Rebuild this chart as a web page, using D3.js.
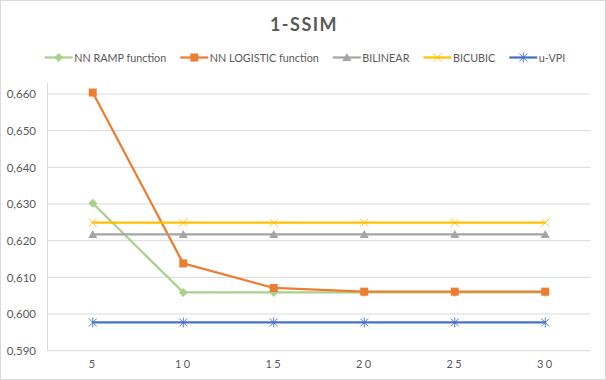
<!DOCTYPE html>
<html>
<head>
<meta charset="utf-8">
<script src="https://cdn.jsdelivr.net/npm/d3@7"></script>
<style>
  body { margin: 0; background: #fff; }
  svg { display: block; font-family: Lato, "Liberation Sans", sans-serif; }
</style>
</head>
<body>
<div id="chart"></div>
<script>
const WIDTH = 606;
const HEIGHT = 380;
const PLOT = {left: 47.5, right: 590.5, top: 94, bottom: 350.7};

// data
const CATEGORIES = ["5", "10", "15", "20", "25", "30"];
const NN_RAMP = [0.6302, 0.6059, 0.6059, 0.6059, 0.6059, 0.6059];
const NN_LOGISTIC = [0.6604, 0.6138, 0.6071, 0.6061, 0.6061, 0.6061];
const BILINEAR = [0.6217, 0.6217, 0.6217, 0.6217, 0.6217, 0.6217];
const BICUBIC = [0.6249, 0.6249, 0.6249, 0.6249, 0.6249, 0.6249];
const U_VPI = [0.5977, 0.5977, 0.5977, 0.5977, 0.5977, 0.5977];
const Y_TICKS = [0.59, 0.60, 0.61, 0.62, 0.63, 0.64, 0.65, 0.66];

const SERIES = [
  {name: "NN RAMP function", values: NN_RAMP, color: "#A9D18E", marker: "diamond"},
  {name: "NN LOGISTIC function", values: NN_LOGISTIC, color: "#ED7D31", marker: "square"},
  {name: "BILINEAR", values: BILINEAR, color: "#A5A5A5", marker: "triangle"},
  {name: "BICUBIC", values: BICUBIC, color: "#FFC000", marker: "x"},
  {name: "u-VPI", values: U_VPI, color: "#4472C4", marker: "asterisk"}
];

const X_SCALE = d3.scalePoint()
  .domain(CATEGORIES)
  .range([PLOT.left, PLOT.right])
  .padding(0.5);

const Y_SCALE = d3.scaleLinear()
  .domain([0.59, 0.66])
  .range([PLOT.bottom, PLOT.top]);

const svg = d3.select("#chart")
  .append("svg")
    .attr("width", WIDTH)
    .attr("height", HEIGHT);

// outer border
svg.append("rect")
  .attr("x", 0.5).attr("y", 0.5)
  .attr("width", WIDTH - 1).attr("height", HEIGHT - 1)
  .attr("fill", "#fff")
  .attr("stroke", "#d9d9d9");

// title
svg.append("text")
  .attr("x", 304)
  .attr("y", 31)
  .attr("text-anchor", "middle")
  .attr("font-size", 18)
  .attr("font-weight", "bold")
  .attr("letter-spacing", 1.5)
  .attr("fill", "#595959")
  .text("1-SSIM");

// gridlines
svg.append("g")
  .selectAll("line")
  .data(Y_TICKS)
  .enter()
  .append("line")
    .attr("x1", PLOT.left).attr("x2", PLOT.right)
    .attr("y1", (d) => Y_SCALE(d)).attr("y2", (d) => Y_SCALE(d))
    .attr("stroke", "#d9d9d9")
    .attr("stroke-width", 1);

// vertical axis line
svg.append("line")
  .attr("x1", PLOT.left).attr("x2", PLOT.left)
  .attr("y1", 83).attr("y2", PLOT.bottom)
  .attr("stroke", "#d9d9d9");

// y axis labels
const yAxis = svg.append("g")
  .attr("transform", "translate(" + 36 + ",0)")
  .call(d3.axisLeft(Y_SCALE)
    .tickValues(Y_TICKS)
    .tickSize(0)
    .tickPadding(0)
    .tickFormat((d) => d3.format(".3f")(d).replace(".", ",")));
yAxis.select(".domain").remove();
yAxis.selectAll("text")
  .attr("font-size", 11.5)
  .attr("font-family", "Lato, sans-serif")
  .attr("fill", "#595959");

// x axis labels
const xAxis = svg.append("g")
  .attr("transform", "translate(0," + 360 + ")")
  .call(d3.axisBottom(X_SCALE).tickSize(0).tickPadding(0));
xAxis.select(".domain").remove();
xAxis.selectAll("text")
  .attr("font-size", 11)
  .attr("font-family", "Lato, sans-serif")
  .attr("letter-spacing", 2.5)
  .attr("fill", "#595959");

function markerPath(type) {
  if (type === "diamond") return "M0,-4.5L4.5,0L0,4.5L-4.5,0Z";
  if (type === "square") return "M-4,-4H4V4H-4Z";
  if (type === "triangle") return "M0,-4.5L4.5,3.5H-4.5Z";
  if (type === "x") return "M-4,-4L4,4M-4,4L4,-4";
  return "M-4,-4L4,4M-4,4L4,-4M0,-5V5";
}

const line = d3.line()
  .x((d, i) => X_SCALE(CATEGORIES[i]))
  .y((d) => Y_SCALE(d));

SERIES.forEach((s) => {
  const g = svg.append("g");
  g.append("path")
    .datum(s.values)
    .attr("d", line)
    .attr("fill", "none")
    .attr("stroke", s.color)
    .attr("stroke-width", 2.25)
    .attr("stroke-linejoin", "round");
  const stroked = s.marker === "x" || s.marker === "asterisk";
  g.selectAll("path.pt")
    .data(s.values)
    .enter()
    .append("path")
      .attr("class", "pt")
      .attr("transform", (d, i) => "translate(" + X_SCALE(CATEGORIES[i]) + "," + Y_SCALE(d) + ")")
      .attr("d", markerPath(s.marker))
      .attr("fill", stroked ? "none" : s.color)
      .attr("stroke", s.color)
      .attr("stroke-width", stroked ? 0.9 : 0);
});

// legend
const GAP = 14;
const legend = svg.append("g");
let cursor = 0;
SERIES.forEach((s) => {
  const item = legend.append("g").attr("transform", "translate(" + cursor + ",0)");
  item.append("line")
    .attr("x1", 0).attr("x2", 28)
    .attr("y1", 0).attr("y2", 0)
    .attr("stroke", s.color)
    .attr("stroke-width", 2.25);
  const stroked = s.marker === "x" || s.marker === "asterisk";
  item.append("path")
    .attr("transform", "translate(14,0)")
    .attr("d", markerPath(s.marker))
    .attr("fill", stroked ? "none" : s.color)
    .attr("stroke", s.color)
    .attr("stroke-width", stroked ? 0.9 : 0);
  const t = item.append("text")
    .attr("x", 29.5)
    .attr("y", 4)
    .attr("font-size", 10.8)
    .attr("fill", "#595959")
    .text(s.name);
  cursor += 29.5 + t.node().getComputedTextLength() + GAP;
});
const legendWidth = cursor - GAP;
legend.attr("transform", "translate(" + (305 - legendWidth / 2) + ",57.5)");
</script>
</body>
</html>
